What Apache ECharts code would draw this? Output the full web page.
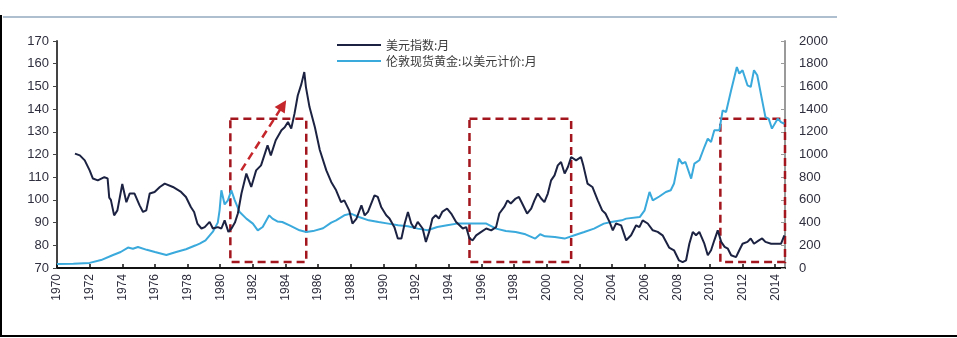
<!DOCTYPE html>
<html>
<head>
<meta charset="utf-8">
<script src="https://cdn.jsdelivr.net/npm/echarts@6/dist/echarts.min.js"></script>
<style>
  html, body { margin: 0; padding: 0; background: #ffffff; }
  #chart { width: 957px; height: 338px; }
</style>
</head>
<body>
<div id="chart"></div>
<script>
// US dollar index, monthly (left axis)
const usdYears = [1971.1,1971.4,1971.7,1972.0,1972.2,1972.5,1972.9,1973.1,1973.2,1973.3,1973.5,1973.7,1974.0,1974.25,1974.45,1974.75,1975.06,1975.27,1975.47,1975.68,1975.98,1976.3,1976.6,1977.1,1977.6,1977.9,1978.2,1978.4,1978.6,1978.85,1979.05,1979.35,1979.55,1979.85,1980.07,1980.27,1980.5,1980.7,1980.9,1981.08,1981.3,1981.6,1981.9,1982.2,1982.5,1982.9,1983.1,1983.4,1983.75,1983.95,1984.15,1984.35,1984.55,1984.75,1984.97,1985.15,1985.25,1985.47,1985.8,1986.1,1986.5,1986.8,1987.1,1987.4,1987.6,1987.9,1988.1,1988.35,1988.65,1988.85,1989.05,1989.25,1989.45,1989.65,1989.86,1990.17,1990.37,1990.67,1990.88,1991.1,1991.3,1991.5,1991.7,1991.9,1992.1,1992.4,1992.6,1992.8,1993.0,1993.2,1993.4,1993.6,1993.9,1994.15,1994.45,1994.66,1994.86,1995.07,1995.27,1995.47,1995.68,1995.99,1996.3,1996.6,1996.9,1997.1,1997.4,1997.6,1997.8,1998.1,1998.3,1998.5,1998.8,1999.05,1999.25,1999.45,1999.66,1999.86,2000.07,2000.27,2000.48,2000.68,2000.88,2001.1,2001.3,2001.5,2001.8,2002.1,2002.25,2002.5,2002.8,2003.13,2003.4,2003.6,2003.85,2004.05,2004.25,2004.56,2004.87,2005.17,2005.48,2005.68,2005.88,2006.19,2006.5,2006.8,2007.1,2007.5,2007.8,2008.1,2008.33,2008.54,2008.74,2008.95,2009.15,2009.35,2009.66,2009.87,2010.07,2010.27,2010.48,2010.69,2010.9,2011.1,2011.3,2011.6,2011.8,2012.0,2012.3,2012.5,2012.7,2013.0,2013.2,2013.4,2013.75,2014.05,2014.36,2014.56];
const usdValues = [120.4,119.6,117.4,113,109.4,108.6,110,109.5,101,100,93.2,95.4,107,99,102.8,102.8,97.6,94.7,95.4,102.8,103.5,105.7,107.2,105.7,103.5,101.3,96.9,94.7,89.6,87.4,88,90.3,87.4,88,87.4,91,85.9,87.5,90,94,102.8,111.6,105.7,113,115.2,124,119.6,126.3,130.7,132,134.3,131.4,138,146,151,156.3,149.7,140.9,132,122,113,107.9,104.2,99,99.8,95.4,89.6,91.8,97.6,93.2,94.7,98.4,102,101.3,96.9,93.2,91.8,88,83,83,89.6,94.7,89.6,87.4,90.3,87.4,81.5,85.9,91.8,93.2,91.8,94.7,96.2,94,90.3,88.8,87.4,88,83,82.2,84.4,85.9,87.4,86.6,88,94,96.9,99.8,98.4,100.6,101.3,98.4,94,96.2,99.8,102.8,100.6,99,102.8,108.6,110.8,115.2,116.7,111.6,114.5,118.9,117.4,118.9,115,107.2,105.7,99.8,95.4,94,90.3,86.6,89.6,88.8,82.2,84.4,88.8,88,91,89.6,86.6,85.9,84.4,79,77.8,73.4,72.6,73.4,80.7,85.9,84.4,85.9,80.7,75.6,77.8,82.2,86.6,81.5,79.3,78.5,75.6,74.8,77.8,80.7,81.5,83,80.7,82.2,83,81.5,80.7,80.7,80.7,84.4];

// London spot gold in USD, monthly (right axis)
const goldYears = [1970.0,1971.0,1972.0,1972.7,1973.4,1973.9,1974.35,1974.65,1974.96,1975.5,1976.0,1976.7,1977.3,1977.9,1978.5,1978.74,1979.1,1979.55,1979.85,1979.96,1980.07,1980.27,1980.47,1980.68,1980.88,1981.19,1981.6,1982.0,1982.3,1982.6,1983.0,1983.2,1983.5,1983.8,1984.25,1984.86,1985.27,1985.68,1986.3,1986.8,1987.1,1987.6,1988.0,1988.5,1989.1,1989.7,1990.3,1990.9,1991.5,1992.1,1992.7,1993.3,1993.9,1994.5,1995.1,1995.7,1996.3,1996.9,1997.5,1998.1,1998.7,1999.3,1999.6,1999.9,2000.5,2001.1,2001.7,2002.3,2002.9,2003.5,2003.95,2004.6,2004.87,2005.7,2006.0,2006.3,2006.5,2006.9,2007.3,2007.6,2007.8,2008.1,2008.3,2008.5,2008.85,2009.05,2009.35,2009.66,2009.87,2010.07,2010.27,2010.58,2010.78,2010.99,2011.3,2011.5,2011.65,2011.8,2012.0,2012.3,2012.5,2012.7,2012.9,2013.2,2013.4,2013.6,2013.8,2014.15,2014.35,2014.56];
const goldValues = [35,38,45,70,112,141,180,170,185,160,141,115,141,165,200,215,244,320,400,508,685,560,596,685,600,493,435,391,332,361,464,435,410,405,376,332,317,325,350,400,420,464,479,449,420,405,391,376,367,347,332,361,376,391,391,391,391,347,326,317,297,259,297,279,273,259,288,317,347,391,405,420,435,449,508,670,596,630,670,685,744,964,920,934,788,920,949,1066,1140,1110,1213,1213,1389,1374,1566,1683,1771,1713,1742,1610,1595,1742,1698,1477,1330,1316,1228,1316,1286,1271];

const seriesNames = ['美元指数:月', '伦敦现货黄金:以美元计价:月'];

// highlighted periods [start year, end year] and the dollar-index band they span
const boxSpans = [[1980.62, 1985.27], [1995.27, 2001.5], [2010.64, 2015.28]];
const boxBand = [72.6, 135.8];
// dashed trend arrow: [year, index] start and end
const arrowFrom = [1981.29, 113.0];
const arrowTo = [1983.84, 141.7];

const zip = (xs, ys) => xs.map((x, i) => [x, ys[i]]);

const labelFont = { fontFamily: 'Liberation Sans, Arial, sans-serif', color: '#2e2e3e' };

const chart = echarts.init(document.getElementById('chart'), null, { renderer: 'canvas' });

chart.setOption({
  backgroundColor: '#ffffff',
  animation: false,
  graphic: [
    { type: 'rect', shape: { x: 3, y: 16, width: 834, height: 2 }, style: { fill: '#aebfd0' }, silent: true },
    { type: 'rect', shape: { x: 0, y: 15, width: 2, height: 322 }, style: { fill: '#000000' }, silent: true },
    { type: 'rect', shape: { x: 0, y: 335, width: 957, height: 2 }, style: { fill: '#000000' }, silent: true }
  ],
  legend: {
    orient: 'vertical',
    left: 332,
    top: 34,
    icon: 'rect',
    itemWidth: 44,
    itemHeight: 2,
    itemGap: 4,
    textStyle: { fontFamily: 'Noto Sans CJK SC, sans-serif', fontSize: 12, color: '#3a3a3a' },
    data: seriesNames
  },
  grid: { left: 57, right: 172, top: 41, bottom: 70 },
  xAxis: {
    type: 'value',
    min: 1970,
    max: 2014.6,
    interval: 2,
    axisLine: { lineStyle: { color: '#111111', width: 2 } },
    axisTick: { inside: true, length: 4, lineStyle: { color: '#111111', width: 1.5 } },
    splitLine: { show: false },
    axisLabel: Object.assign({
      rotate: 90,
      fontSize: 12,
      margin: 6,
      showMaxLabel: false,
      formatter: v => (v % 2 === 0 ? String(v) : '')
    }, labelFont)
  },
  yAxis: [
    {
      type: 'value',
      min: 70,
      max: 170,
      interval: 10,
      axisLine: { show: true, lineStyle: { color: '#444444', width: 2 } },
      axisTick: { show: true, length: 4, lineStyle: { color: '#444444' } },
      splitLine: { show: false },
      axisLabel: Object.assign({ fontSize: 13, margin: 8 }, labelFont)
    },
    {
      type: 'value',
      min: 0,
      max: 2000,
      interval: 200,
      position: 'right',
      axisLine: { show: true, lineStyle: { color: '#9a9a9a', width: 2 } },
      axisTick: { show: true, inside: true, length: 4, lineStyle: { color: '#9a9a9a' } },
      splitLine: { show: false },
      axisLabel: Object.assign({ fontSize: 13, margin: 14, formatter: v => String(v) }, labelFont)
    }
  ],
  series: [
    {
      name: seriesNames[1],
      type: 'line',
      yAxisIndex: 1,
      data: zip(goldYears, goldValues),
      symbol: 'none',
      lineStyle: { color: '#3aa9dc', width: 2 },
      itemStyle: { color: '#3aa9dc' },
      z: 2
    },
    {
      name: seriesNames[0],
      type: 'line',
      yAxisIndex: 0,
      data: zip(usdYears, usdValues),
      symbol: 'none',
      clip: false,
      lineStyle: { color: '#1c2342', width: 2 },
      itemStyle: { color: '#1c2342' },
      z: 3,
      markArea: {
        silent: true,
        itemStyle: {
          color: 'rgba(0,0,0,0)',
          borderColor: '#a3161d',
          borderWidth: 2.5,
          borderType: [8, 5]
        },
        data: boxSpans.map(s => [
          { coord: [s[0], boxBand[1]] },
          { coord: [s[1], boxBand[0]] }
        ])
      },
      markLine: {
        silent: true,
        symbol: ['none', 'triangle'],
        symbolSize: [12, 12],
        label: { show: false },
        lineStyle: { color: '#c4262b', width: 2.5, type: [8, 5] },
        data: [[{ coord: arrowFrom }, { coord: arrowTo }]]
      }
    }
  ]
});
</script>
</body>
</html>
